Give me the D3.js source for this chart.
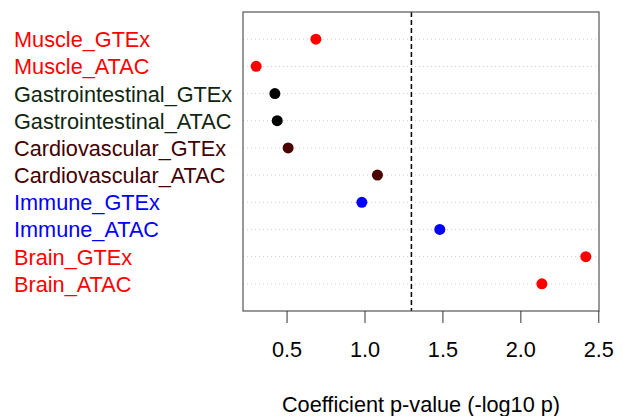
<!DOCTYPE html>
<html>
<head>
<meta charset="utf-8">
<script src="https://cdn.jsdelivr.net/npm/d3@7"></script>
<style>
  body { margin: 0; background: #fff; }
  svg { display: block; font-family: "Liberation Sans", Arial, sans-serif; }
</style>
</head>
<body>
<svg id="chart" width="623" height="416"></svg>
<script>
// data, top to bottom as drawn
const labels = ["Muscle_GTEx", "Muscle_ATAC", "Gastrointestinal_GTEx", "Gastrointestinal_ATAC",
  "Cardiovascular_GTEx", "Cardiovascular_ATAC", "Immune_GTEx", "Immune_ATAC", "Brain_GTEx", "Brain_ATAC"];
const pvals = [0.688, 0.305, 0.425, 0.44, 0.51, 1.083, 0.983, 1.483, 2.42, 2.138];
const labelColors = ["#ff0000", "#ff0000", "#0f260f", "#0f260f", "#420000", "#420000",
  "#0000ff", "#0000ff", "#ff0000", "#ff0000"];
const dotColors = ["#ff0000", "#ff0000", "#000000", "#000000", "#4a0000", "#4a0000",
  "#0000ff", "#0000ff", "#ff0000", "#ff0000"];
const xTicks = [0.5, 1.0, 1.5, 2.0, 2.5];
const cutoff = -Math.log10(0.05);

const svg = d3.select("#chart");
const plotL = 243, plotR = 599, plotT = 12, plotB = 311;
const fs = 21.7;

const x = d3.scaleLinear().domain([0.2204, 2.5046]).range([plotL, plotR]);
// dotchart style: rows 1..n from bottom, ylim 0..n+1
const n = labels.length;
const y = d3.scaleLinear().domain([0, n + 1]).range([plotB, plotT]);
const rowY = i => y(n - i);

// dotted row guides
svg.append("g").selectAll("line")
  .data(labels)
  .enter().append("line")
  .attr("x1", plotL).attr("x2", plotR)
  .attr("y1", (d, i) => rowY(i)).attr("y2", (d, i) => rowY(i))
  .attr("stroke", "#cfcfcf")
  .attr("stroke-width", 1)
  .attr("stroke-dasharray", "1,3");

// cutoff line
svg.append("line")
  .attr("x1", x(cutoff)).attr("x2", x(cutoff))
  .attr("y1", plotT).attr("y2", plotB)
  .attr("stroke", "#000")
  .attr("stroke-width", 1.5)
  .attr("stroke-dasharray", "5,3");

// box
svg.append("rect")
  .attr("x", plotL).attr("y", plotT)
  .attr("width", plotR - plotL).attr("height", plotB - plotT)
  .attr("fill", "none")
  .attr("stroke", "#555")
  .attr("stroke-width", 1.2);

// points
svg.append("g").selectAll("circle")
  .data(pvals)
  .enter().append("circle")
  .attr("cx", d => x(d))
  .attr("cy", (d, i) => rowY(i))
  .attr("r", 5.5)
  .attr("fill", (d, i) => dotColors[i]);

// row labels
svg.append("g").selectAll("text")
  .data(labels)
  .enter().append("text")
  .attr("x", 14)
  .attr("y", (d, i) => rowY(i) + 8)
  .attr("font-size", fs)
  .attr("fill", (d, i) => labelColors[i])
  .text(d => d);

// x axis
const xAxis = svg.append("g")
  .attr("transform", `translate(0,${plotB})`)
  .call(d3.axisBottom(x).tickValues(xTicks).tickFormat(d3.format(".1f")).tickSize(12).tickPadding(19));
xAxis.select(".domain").remove();
xAxis.selectAll(".tick line").attr("stroke", "#333");
xAxis.selectAll(".tick text")
  .attr("font-size", fs)
  .attr("font-family", "Liberation Sans, Arial, sans-serif")
  .attr("fill", "#000");

svg.append("text")
  .attr("x", (plotL + plotR) / 2)
  .attr("y", 412)
  .attr("text-anchor", "middle")
  .attr("font-size", fs)
  .attr("fill", "#000")
  .text("Coefficient p-value (-log10 p)");
</script>
</body>
</html>
